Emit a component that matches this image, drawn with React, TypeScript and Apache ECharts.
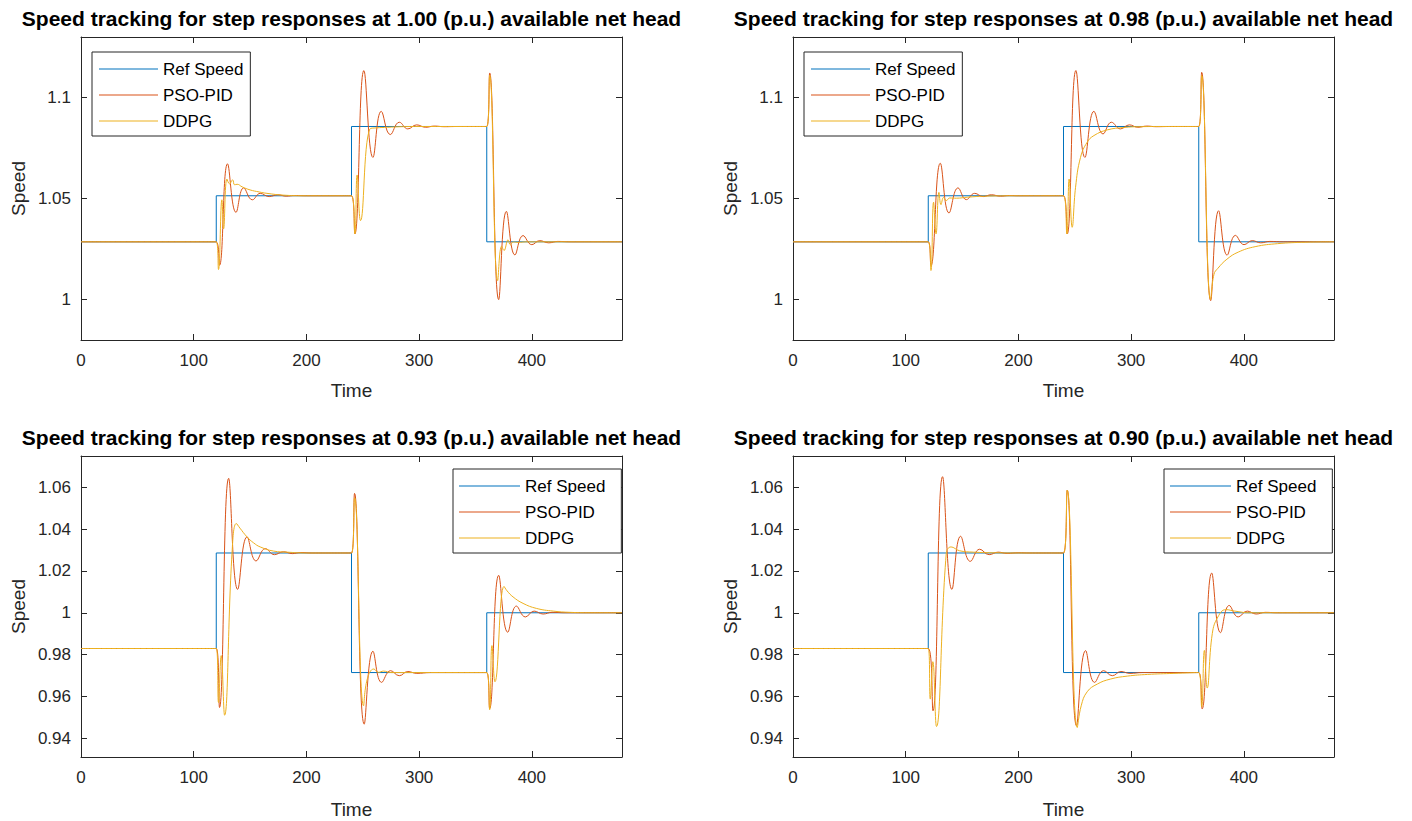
import React, { useEffect, useRef } from "react";
import * as echarts from "echarts";

type Pt = [number, number];

const seriesNames = ["Ref Speed", "PSO-PID", "DDPG"];
const seriesColors = ["#0072BD", "#D95319", "#EDB120"];
const netHeads = ["1.00", "0.98", "0.93", "0.90"];

const stepTimes = [0, 120, 240, 360, 480];
const refLevelsHigh = [1.0286, 1.0514, 1.0857, 1.0286];
const refLevelsLow = [0.9829, 1.0286, 0.9714, 1.0];

const xTicks = [0, 100, 200, 300, 400];
const yTicksHigh = [1, 1.05, 1.1];
const yTicksLow = [0.94, 0.96, 0.98, 1, 1.02, 1.04, 1.06];

const pso1: Pt[] = [
  [0, 1.0286], [120, 1.0286], [122.9, 1.017], [130, 1.0672], [137.5, 1.0432], [144.3, 1.0553],
  [152, 1.0494], [159, 1.0526], [167, 1.051], [174.6, 1.0519], [182, 1.0512], [190, 1.0515],
  [200, 1.0514], [240, 1.0514], [243, 1.0325], [251, 1.1134], [259, 1.0704], [266.4, 1.0932],
  [274.4, 1.0817], [282.4, 1.0878], [290, 1.0845], [297.8, 1.0865], [305.8, 1.0853], [313.5, 1.0859],
  [322, 1.0856], [335, 1.0857], [360, 1.0857], [362.6, 1.1122], [370.6, 1.0], [377.4, 1.0437],
  [385, 1.0221], [392.2, 1.0317], [400, 1.0272], [407, 1.0292], [415, 1.0281], [423, 1.0288],
  [435, 1.0286], [480, 1.0286],
];
const ddpg1: Pt[] = [
  [0, 1.0286], [120, 1.0286], [122, 1.0149], [125, 1.0494], [126.5, 1.035], [129.5, 1.0597],
  [131.8, 1.0573], [134.5, 1.0593], [136.3, 1.0568], [138.5, 1.0571], [143, 1.0558], [150, 1.0543],
  [158, 1.0533], [165, 1.0526], [180, 1.0517], [200, 1.0514], [240, 1.0514], [243, 1.0325],
  [245, 1.0617], [248, 1.0391], [256.3, 1.0845], [262, 1.085], [272, 1.0853], [285, 1.0856],
  [300, 1.0857], [360, 1.0857], [362.6, 1.111], [369.7, 1.0094], [373.2, 1.0265], [375.3, 1.0243],
  [378.9, 1.0296], [381, 1.0271], [383.5, 1.0285], [388, 1.0283], [395, 1.0286], [480, 1.0286],
];
const pso2: Pt[] = [
  [0, 1.0286], [120, 1.0286], [122.4, 1.0168], [130.7, 1.0675], [138.4, 1.0429], [146.4, 1.0553],
  [153.8, 1.0495], [161.2, 1.0526], [168.7, 1.051], [176, 1.0519], [184, 1.0512], [192, 1.0515],
  [200, 1.0514], [240, 1.0514], [243.3, 1.0325], [251, 1.1134], [259, 1.0704], [267, 1.0932],
  [275, 1.082], [282.5, 1.0878], [290.5, 1.0845], [298.4, 1.0865], [306, 1.0853], [314, 1.0859],
  [322, 1.0856], [335, 1.0857], [360, 1.0857], [362.6, 1.1125], [370.6, 0.9995], [377.6, 1.044],
  [385.2, 1.022], [392.5, 1.0318], [400.2, 1.0272], [407.5, 1.0292], [415, 1.0281], [423, 1.0288],
  [435, 1.0286], [480, 1.0286],
];
const ddpg2: Pt[] = [
  [0, 1.0286], [120, 1.0286], [122.4, 1.0144], [124.7, 1.0482], [126.9, 1.0325], [129.5, 1.0531],
  [131.3, 1.047], [133.6, 1.0506], [136, 1.049], [139, 1.0503], [145, 1.0502], [155, 1.0507],
  [170, 1.0512], [200, 1.0514], [240, 1.0514], [243, 1.0325], [245, 1.0597], [247.7, 1.0358],
  [250.7, 1.0556], [255.1, 1.0704], [261, 1.0779], [267, 1.0812], [278.8, 1.084], [293.6, 1.0852],
  [308, 1.0856], [330, 1.0857], [360, 1.0857], [362.6, 1.111], [370.5, 1.0], [373.5, 1.0125],
  [377, 1.0155], [385, 1.02], [395, 1.0235], [410, 1.0262], [430, 1.0277], [455, 1.0284],
  [480, 1.0286],
];
const pso3: Pt[] = [
  [0, 0.9829], [120, 0.9829], [122.9, 0.9547], [131, 1.0643], [139, 1.0112], [147.3, 1.0363],
  [155.3, 1.0248], [163.6, 1.0307], [171.6, 1.0278], [179.6, 1.0292], [187.5, 1.0283], [195, 1.0288],
  [205, 1.0286], [240, 1.0286], [242.7, 1.0571], [251.3, 0.9467], [259, 0.9816], [266.7, 0.9667],
  [274.7, 0.9723], [282.4, 0.9699], [290, 0.9719], [298, 0.971], [310, 0.9714], [360, 0.9714],
  [362.6, 0.9542], [370.6, 1.0179], [378.6, 0.9907], [386.3, 1.0032], [394.3, 0.998], [402, 1.0008],
  [410, 0.9994], [418, 1.0002], [430, 1.0], [480, 1.0],
];
const ddpg3: Pt[] = [
  [0, 0.9829], [120, 0.9829], [122, 0.9571], [124.4, 0.9795], [127.4, 0.951], [134, 1.0286],
  [137.8, 1.0427], [141, 1.0405], [147.3, 1.0363], [153, 1.0335], [159, 1.0315], [171, 1.0295],
  [183, 1.029], [200, 1.0286], [240, 1.0286], [242.7, 1.055], [250.7, 0.9555], [254, 0.9683],
  [259.8, 0.9731], [264, 0.9715], [268.4, 0.9721], [275, 0.9714], [360, 0.9714], [362.6, 0.9536],
  [364.6, 0.9843], [367.3, 0.967], [375.3, 1.0126], [378, 1.0105], [383.3, 1.0076], [392.2, 1.0045],
  [404, 1.0021], [419, 1.0008], [434, 1.0002], [455, 1.0], [480, 1.0],
];
const pso4: Pt[] = [
  [0, 0.9829], [120, 0.9829], [124.2, 0.9531], [132.7, 1.0651], [141, 1.0112], [148.7, 1.0366],
  [157.3, 1.0246], [165.6, 1.0304], [174, 1.0278], [182, 1.029], [190, 1.0284], [200, 1.0287],
  [210, 1.0286], [240, 1.0286], [243.3, 1.0587], [251.6, 0.9459], [259.6, 0.9819], [267.6, 0.9667],
  [275.6, 0.9723], [283.3, 0.9699], [291, 0.9719], [299, 0.971], [310, 0.9714], [360, 0.9714],
  [363, 0.954], [371.5, 1.019], [379.3, 0.9905], [387, 1.0035], [395, 0.998], [403, 1.0008],
  [411, 0.9994], [419, 1.0002], [430, 1.0], [480, 1.0],
];
const ddpg4: Pt[] = [
  [0, 0.9829], [120, 0.9829], [121.8, 0.9587], [124.1, 0.9766], [127.3, 0.9456], [136, 1.0286],
  [140.2, 1.0315], [147.6, 1.0297], [160, 1.029], [180, 1.0287], [200, 1.0286], [240, 1.0286],
  [243.3, 1.0587], [252.2, 0.9451], [255.7, 0.9555], [261, 0.9622], [270, 0.9659], [281.8, 0.9683],
  [296.6, 0.9697], [314.4, 0.9705], [338, 0.971], [360, 0.9714], [362.6, 0.955], [365, 0.982],
  [367.5, 0.964], [372, 0.99], [377, 0.998], [384, 1.0015], [392, 1.0008], [405, 1.0], [480, 1.0],
];

const FONT = "Liberation Sans";
const INK = "#262626";

const panels = [
  { head: netHeads[0], ref: refLevelsHigh, pso: pso1, ddpg: ddpg1, yMin: 0.98, yMax: 1.13, yTicks: yTicksHigh, nameGap: 41,
    grid: { left: 81, top: 37, width: 541, height: 303 }, legend: { left: 92, top: 52, itemWidth: 59, padding: [7, 7, 5, 7] } },
  { head: netHeads[1], ref: refLevelsHigh, pso: pso2, ddpg: ddpg2, yMin: 0.98, yMax: 1.13, yTicks: yTicksHigh, nameGap: 41,
    grid: { left: 793, top: 37, width: 541, height: 303 }, legend: { left: 804, top: 52, itemWidth: 59, padding: [7, 7, 5, 7] } },
  { head: netHeads[2], ref: refLevelsLow, pso: pso3, ddpg: ddpg3, yMin: 0.931, yMax: 1.075, yTicks: yTicksLow, nameGap: 43,
    grid: { left: 81, top: 456, width: 541, height: 301 }, legend: { left: 453, top: 469, itemWidth: 61, padding: [7, 16, 5, 6] } },
  { head: netHeads[3], ref: refLevelsLow, pso: pso4, ddpg: ddpg4, yMin: 0.931, yMax: 1.075, yTicks: yTicksLow, nameGap: 43,
    grid: { left: 793, top: 456, width: 541, height: 301 }, legend: { left: 1164, top: 469, itemWidth: 61, padding: [7, 16, 5, 6] } },
];

function refSteps(levels: number[]): Pt[] {
  const out: Pt[] = [];
  for (let i = 0; i < levels.length; i++) {
    out.push([stepTimes[i], levels[i]]);
    out.push([stepTimes[i + 1], levels[i]]);
  }
  return out;
}

function buildOption() {
  const title: any[] = [];
  const grid: any[] = [];
  const xAxis: any[] = [];
  const yAxis: any[] = [];
  const legend: any[] = [];
  const series: any[] = [];

  const axisLine = { show: true, onZero: false, lineStyle: { color: INK, width: 1 } };

  panels.forEach((p, i) => {
    grid.push({ ...p.grid, containLabel: false });
    title.push({
      text: `Speed tracking for step responses at ${p.head} (p.u.) available net head`,
      left: p.grid.left + p.grid.width / 2,
      top: p.grid.top - 29,
      textAlign: "center",
      padding: 0,
      textStyle: { fontFamily: FONT, fontSize: 21, fontWeight: "bold", color: "#000" },
    });
    xAxis.push({
      type: "value", gridIndex: i, min: 0, max: 480, position: "bottom",
      axisLine,
      axisTick: { show: true, inside: true, length: 6, customValues: xTicks, lineStyle: { color: INK } },
      axisLabel: { show: true, customValues: xTicks, color: INK, fontFamily: FONT, fontSize: 17, margin: 12 },
      splitLine: { show: false },
      name: "Time", nameLocation: "middle", nameGap: p.nameGap,
      nameTextStyle: { fontFamily: FONT, fontSize: 19, color: INK },
    });
    xAxis.push({
      type: "value", gridIndex: i, min: 0, max: 480, position: "top",
      axisLine,
      axisTick: { show: true, inside: true, length: 6, customValues: xTicks, lineStyle: { color: INK } },
      axisLabel: { show: false },
      splitLine: { show: false },
    });
    yAxis.push({
      type: "value", gridIndex: i, min: p.yMin, max: p.yMax, position: "left",
      axisLine,
      axisTick: { show: true, inside: true, length: 6, customValues: p.yTicks, lineStyle: { color: INK } },
      axisLabel: { show: true, customValues: p.yTicks, color: INK, fontFamily: FONT, fontSize: 17, margin: 10 },
      splitLine: { show: false },
      name: "Speed", nameLocation: "middle", nameGap: 53, nameRotate: 90,
      nameTextStyle: { fontFamily: FONT, fontSize: 19, color: INK },
    });
    yAxis.push({
      type: "value", gridIndex: i, min: p.yMin, max: p.yMax, position: "right",
      axisLine,
      axisTick: { show: true, inside: true, length: 6, customValues: p.yTicks, lineStyle: { color: INK } },
      axisLabel: { show: false },
      splitLine: { show: false },
    });
    legend.push({
      data: seriesNames,
      orient: "vertical",
      left: p.legend.left,
      top: p.legend.top,
      padding: p.legend.padding,
      icon: "rect",
      itemWidth: p.legend.itemWidth,
      itemHeight: 1,
      itemGap: 6,
      backgroundColor: "#fff",
      borderColor: INK,
      borderWidth: 1,
      borderRadius: 0,
      selectedMode: false,
      textStyle: { fontFamily: FONT, fontSize: 17, color: "#000", lineHeight: 20 },
    });
    const curves: Pt[][] = [refSteps(p.ref), p.pso, p.ddpg];
    curves.forEach((data, k) => {
      series.push({
        name: seriesNames[k],
        type: "line",
        xAxisIndex: i * 2,
        yAxisIndex: i * 2,
        data,
        symbol: "none",
        smooth: k === 0 ? false : 0.45,
        lineStyle: { color: seriesColors[k], width: 1 },
        itemStyle: { color: seriesColors[k] },
        z: 2 + k,
      });
    });
  });

  return {
    animation: false,
    backgroundColor: "#fff",
    textStyle: { fontFamily: FONT },
    title, grid, xAxis, yAxis, legend, series,
  };
}

export default function App() {
  const ref = useRef<HTMLDivElement>(null);
  useEffect(() => {
    if (!ref.current) return;
    const chart = echarts.init(ref.current, undefined, { renderer: "svg" });
    chart.setOption(buildOption() as any);
    return () => chart.dispose();
  }, []);
  return (
    <div
      ref={ref}
      style={{ position: "absolute", left: 0, top: 0, width: 1412, height: 821, background: "#fff" }}
    />
  );
}
